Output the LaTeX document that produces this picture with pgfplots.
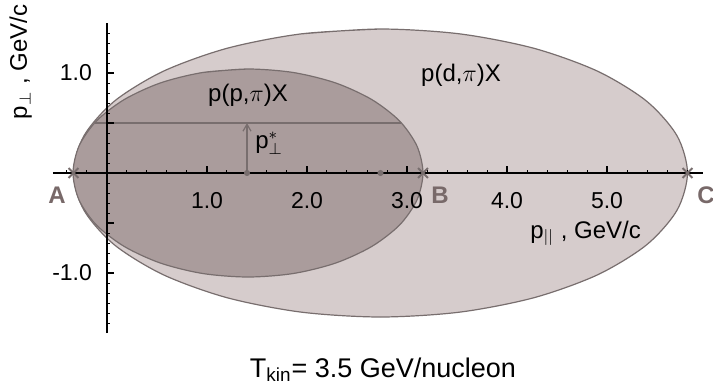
\documentclass[border=0pt]{standalone}
\usepackage{pgfplots}
\pgfplotsset{compat=1.18}
\usepackage{fontspec}
\setmainfont{Liberation Sans}
\usetikzlibrary{arrows.meta}
\definecolor{outerfill}{RGB}{214,204,204}
\definecolor{innerfill}{RGB}{170,156,156}
\definecolor{edge}{RGB}{120,110,110}
\definecolor{lblgray}{RGB}{120,105,105}
\begin{document}
\begin{tikzpicture}
\begin{axis}[
  x=50pt, y=50pt,
  xmin=-0.54, xmax=5.96, ymin=-1.6, ymax=1.5,
  axis lines=middle,
  axis line style={-, line width=1pt, black},
  axis on top,
  clip=false,
  xtick={1,2,3,4,5}, xticklabels={1.0,2.0,3.0,4.0,5.0},
  ytick={-1,-0.5,0.5,1}, yticklabels={-1.0,{},{},1.0},
  minor xtick={-0.4,-0.2,0.2,0.4,0.6,0.8,1.2,1.4,1.6,1.8,2.2,2.4,2.6,2.8,3.2,3.4,3.6,3.8,4.2,4.4,4.6,4.8,5.2,5.4,5.6,5.8},
  minor ytick={-1.5,-1.4,-1.3,-1.2,-1.1,-0.9,-0.8,-0.7,-0.6,-0.4,-0.3,-0.2,-0.1,0.1,0.2,0.3,0.4,0.6,0.7,0.8,0.9,1.1,1.2,1.3,1.4},
  tick align=inside,
  major tick length=3.5pt, minor tick length=1.5pt,
  every tick/.style={black, line width=0.8pt},
  minor tick style={line width=0.5pt, black},
  xticklabel style={font=\fontsize{11.5}{13}\selectfont, anchor=north, yshift=-6pt},
  yticklabel style={font=\fontsize{11.5}{13}\selectfont, anchor=east, xshift=-4pt},
]
% outer ellipse p(d,pi)X
\addplot[smooth, fill=outerfill, draw=edge, line width=0.6pt] coordinates {
(2.735,1.440) (1.940,1.391) (1.200,1.247) (0.564,1.018) (0.076,0.720) (-0.230,0.373)
(-0.335,0) (-0.230,-0.373) (0.076,-0.720) (0.564,-1.018) (1.200,-1.247) (1.940,-1.391)
(2.735,-1.440) (3.530,-1.391) (4.270,-1.247) (4.906,-1.018) (5.394,-0.720) (5.700,-0.373)
(5.805,0) (5.700,0.373) (5.394,0.720) (4.906,1.018) (4.270,1.247) (3.530,1.391)
(2.735,1.440) (1.940,1.391)};
% inner ellipse p(p,pi)X
\addplot[smooth, fill=innerfill, draw=edge, line width=0.6pt] coordinates {
(1.410,1.040) (0.957,1.005) (0.535,0.901) (0.173,0.735) (-0.106,0.520) (-0.280,0.269)
(-0.340,0) (-0.280,-0.269) (-0.106,-0.520) (0.173,-0.735) (0.535,-0.901) (0.957,-1.005)
(1.410,-1.040) (1.863,-1.005) (2.285,-0.901) (2.647,-0.735) (2.926,-0.520) (3.100,-0.269)
(3.160,0) (3.100,0.269) (2.926,0.520) (2.647,0.735) (2.285,0.901) (1.863,1.005)
(1.410,1.040) (0.957,1.005)};
% chord and arrow
\addplot[edge, line width=0.6pt] coordinates {(-0.12,0.5) (2.94,0.5)};
\addplot[edge, line width=0.6pt, -{Straight Barb[length=3.5pt,width=4pt]}] coordinates {(1.40,0) (1.40,0.5)};
% centres
\addplot[only marks, mark=*, mark size=1.3pt, color=edge] coordinates {(1.40,0) (2.735,0)};
% end points A B C
\addplot[only marks, mark=x, mark size=3.5pt, color=edge, line width=0.9pt] coordinates {(-0.335,0) (3.16,0) (5.805,0)};
% labels
\node[font=\fontsize{12}{14}\selectfont] at (axis cs:1.41,0.78) {p(p,$\pi$)X};
\node[font=\fontsize{12}{14}\selectfont] at (axis cs:3.54,0.98) {p(d,$\pi$)X};
\node[font=\fontsize{12}{14}\selectfont, anchor=west, inner sep=0pt] at (axis cs:1.48,0.30) {p$^{*}_{\perp}$};
\node[font=\fontsize{12}{14}\selectfont\bfseries, text=lblgray] at (axis cs:-0.50,-0.22) {A};
\node[font=\fontsize{12}{14}\selectfont\bfseries, text=lblgray] at (axis cs:3.33,-0.22) {B};
\node[font=\fontsize{12}{14}\selectfont\bfseries, text=lblgray] at (axis cs:5.99,-0.22) {C};
\node[font=\fontsize{12}{14}\selectfont, anchor=base west, inner sep=0pt] at (axis cs:4.23,-0.65) {p$_{||}$ , GeV/c};
\node[font=\fontsize{12}{14}\selectfont, rotate=90, anchor=base, inner sep=0pt] at (axis cs:-0.80,1.11) {p$_{\perp}$ , GeV/c};
\node[font=\fontsize{13.5}{16}\selectfont, anchor=base, inner sep=0pt] at (axis cs:2.76,-2.04) {T\textsubscript{kin}= 3.5 GeV/nucleon};
\coordinate (bbsw) at (axis cs:-1.07,-2.14);
\coordinate (bbne) at (axis cs:6.06,1.73);
\end{axis}
\pgfresetboundingbox
\useasboundingbox (bbsw) rectangle (bbne);
\end{tikzpicture}
\end{document}
